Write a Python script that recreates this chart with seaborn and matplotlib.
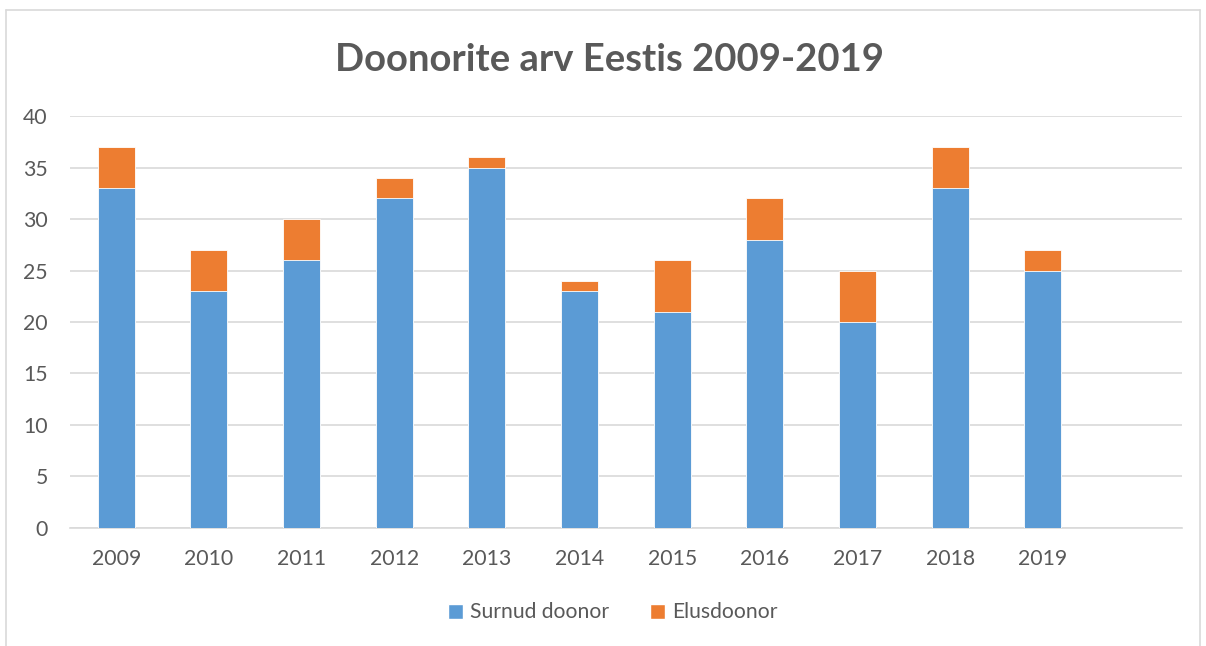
import matplotlib
matplotlib.use("Agg")
import matplotlib.pyplot as plt
import seaborn as sns
import pandas as pd
from matplotlib.lines import Line2D
from matplotlib.patches import Patch

years = ["2009", "2010", "2011", "2012", "2013", "2014", "2015", "2016", "2017", "2018", "2019"]
surnud = [33, 23, 26, 32, 35, 23, 21, 28, 20, 33, 25]
elus = [4, 4, 4, 2, 1, 1, 5, 4, 5, 4, 2]

BLUE = "#5B9BD5"
ORANGE = "#ED7D31"
TXT = "#595959"

sns.set_theme(style="white")
plt.rcParams['font.family'] = ['Lato', 'DejaVu Sans']

df = pd.DataFrame({"year": years, "surnud": surnud, "elus": elus})
df["total"] = df["surnud"] + df["elus"]

fig = plt.figure(figsize=(12.06, 6.46), dpi=100)
ax = fig.add_axes([0.058, 0.1827, 0.922, 0.6377])

sns.barplot(data=df, x="year", y="total", color=ORANGE, width=0.4, saturation=1,
            edgecolor="white", linewidth=0.6, ax=ax, zorder=3)
sns.barplot(data=df, x="year", y="surnud", color=BLUE, width=0.4, saturation=1,
            edgecolor="white", linewidth=0.6, ax=ax, zorder=4)

ax.set_xlim(-0.5, 11.5)
ax.set_ylim(0, 40)
ax.set_yticks(range(0, 41, 5))
ax.grid(axis="y", color="#D9D9D9", linewidth=1.2, zorder=0)
ax.set_axisbelow(True)
for s in ["top", "right", "left"]:
    ax.spines[s].set_visible(False)
ax.spines["bottom"].set_color("#D9D9D9")
ax.spines["bottom"].set_linewidth(1.2)
ax.set_xlabel("")
ax.set_ylabel("")
ax.tick_params(axis="both", length=0, labelsize=15.3, colors=TXT)
ax.tick_params(axis="x", pad=15)
ax.tick_params(axis="y", pad=16)

fig.text(0.505, 0.907, "Doonorite arv Eestis 2009-2019", ha="center", va="center",
         fontsize=27.5, fontweight="bold", color=TXT)

handles = [Patch(facecolor=BLUE, label="Surnud doonor"),
           Patch(facecolor=ORANGE, label="Elusdoonor")]
fig.legend(handles=handles, loc="center", bbox_to_anchor=(0.508, 0.052), ncol=2,
           frameon=False, fontsize=15.2, labelcolor=TXT, handlelength=0.72, handleheight=0.72,
           handletextpad=0.35, columnspacing=1.9)

fig.add_artist(Line2D([0.005, 0.005], [0.0, 0.984], transform=fig.transFigure, color="#D9D9D9", lw=1.2))
fig.add_artist(Line2D([0.005, 0.995], [0.984, 0.984], transform=fig.transFigure, color="#D9D9D9", lw=1.2))
fig.add_artist(Line2D([0.995, 0.995], [0.0, 0.984], transform=fig.transFigure, color="#D9D9D9", lw=1.2))

fig.savefig("out.png", dpi=100, facecolor="white")
